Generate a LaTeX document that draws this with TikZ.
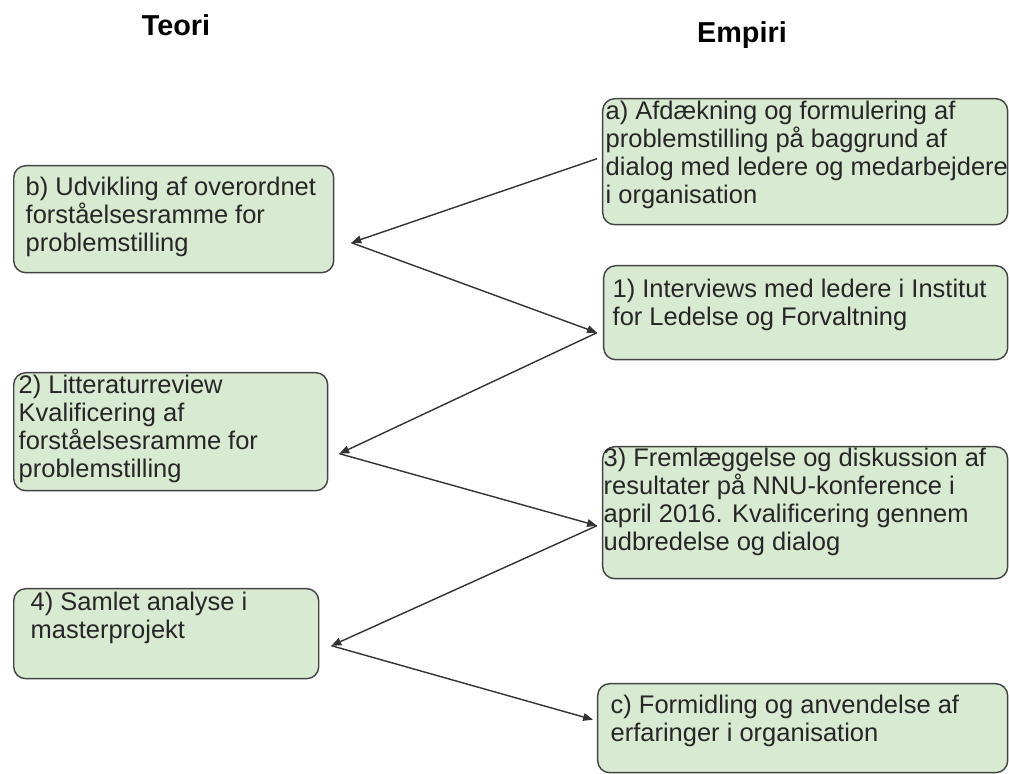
\documentclass[tikz,border=0pt]{standalone}
\usepackage{fontspec}
\setmainfont{Liberation Sans}
\usetikzlibrary{arrows.meta}
\definecolor{boksgroen}{HTML}{D9EAD3}
\definecolor{kant}{HTML}{434343}
\tikzset{
  boks/.style={draw=kant, fill=boksgroen, line width=0.4pt, rounded corners=0.12cm,
    anchor=north west, inner sep=0pt},
  tekst/.style={anchor=north west, inner sep=0pt, align=left, text=black!85,
    font=\fontsize{7.25pt}{7.97pt}\selectfont},
  titel/.style={anchor=base, inner sep=0pt, font=\fontsize{8.2pt}{10pt}\selectfont\bfseries},
  pil/.style={draw=black!80, line width=0.4pt, -{Triangle[length=2.8pt,width=2.2pt]}}
}
\begin{document}
\begin{tikzpicture}
            \useasboundingbox (0,0) rectangle (10.09,-7.74);

            % Headings
            \node [titel] (teori) at (1.76,-0.36) {Teori};
            \node [titel] (empiri) at (7.42,-0.43) {Empiri};

            % Box a
            \node [boks, minimum width=4.05cm, minimum height=1.26cm] (a) at (6.02,-0.98) {};
            \node [tekst] (a-t) at (6.05,-1.00) {a) Afdækning og formulering af\\problemstilling på baggrund af\\dialog med ledere og medarbejdere\\i organisation};

            % Box b
            \node [boks, minimum width=3.20cm, minimum height=1.07cm] (b) at (0.13,-1.65) {};
            \node [tekst] (b-t) at (0.25,-1.764) {b) Udvikling af overordnet\\forståelsesramme for\\problemstilling};

            % Box 1
            \node [boks, minimum width=4.04cm, minimum height=0.94cm] (e1) at (6.03,-2.65) {};
            \node [tekst] (e1-t) at (6.12,-2.784) {1) Interviews med ledere i Institut\\for Ledelse og Forvaltning};

            % Box 2
            \node [boks, minimum width=3.14cm, minimum height=1.18cm] (t2) at (0.13,-3.72) {};
            \node [tekst] (t2-t) at (0.18,-3.744) {2) Litteraturreview\\Kvalificering af\\forståelsesramme for\\problemstilling};

            % Box 3
            \node [boks, minimum width=4.05cm, minimum height=1.32cm] (e3) at (6.02,-4.46) {};
            \node [tekst] (e3-t) at (6.03,-4.47) {3) Fremlæggelse og diskussion af\\resultater på NNU-konference i\\april 2016. Kvalificering gennem\\udbredelse og dialog};

            % Box 4
            \node [boks, minimum width=3.05cm, minimum height=0.90cm] (t4) at (0.13,-5.88) {};
            \node [tekst] (t4-t) at (0.30,-5.914) {4) Samlet analyse i\\masterprojekt};

            % Box c
            \node [boks, minimum width=4.10cm, minimum height=0.89cm] (c) at (5.97,-6.83) {};
            \node [tekst] (c-t) at (6.10,-6.944) {c) Formidling og anvendelse af\\erfaringer i organisation};

            % Arrow end points beside the boxes
            \coordinate (a-p) at ([xshift=-0.05cm,yshift=0.03cm]a.west);
            \coordinate (b-p) at ([xshift=0.17cm,yshift=-0.235cm]b.east);
            \coordinate (e1-p) at ([xshift=-0.06cm,yshift=-0.20cm]e1.west);
            \coordinate (t2-p) at ([xshift=0.11cm,yshift=-0.22cm]t2.east);
            \coordinate (e3-p) at ([xshift=-0.05cm,yshift=-0.13cm]e3.west);
            \coordinate (t4-p) at ([xshift=0.12cm,yshift=-0.12cm]t4.east);
            \coordinate (c-p) at ([xshift=-0.04cm,yshift=0.085cm]c.west);

            % Zigzag between theory and empirics
            \draw [pil] (a-p) -- (b-p);
            \draw [pil] (b-p) -- (e1-p);
            \draw [pil] (e1-p) -- (t2-p);
            \draw [pil] (t2-p) -- (e3-p);
            \draw [pil] (e3-p) -- (t4-p);
            \draw [pil] (t4-p) -- (c-p);
\end{tikzpicture}
\end{document}
